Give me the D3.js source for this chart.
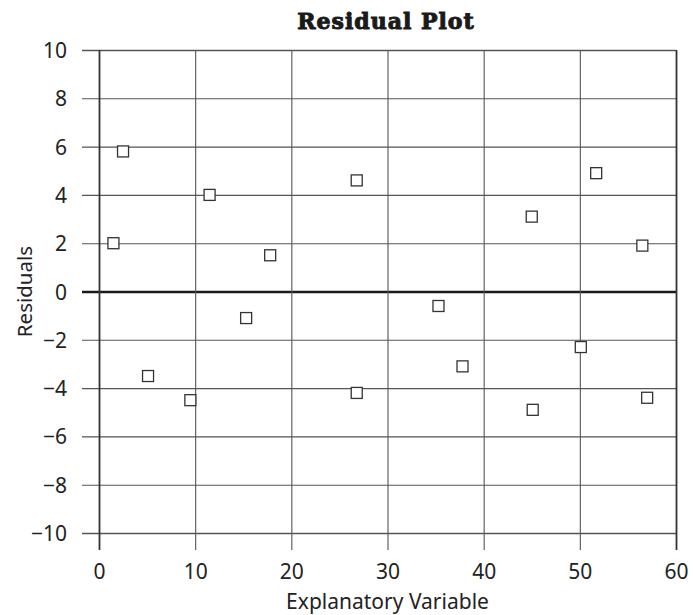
<!DOCTYPE html>
<html>
<head>
<meta charset="utf-8">
<script src="https://cdn.jsdelivr.net/npm/d3@7"></script>
<style>
  html, body { margin: 0; padding: 0; background: #fff; }
  svg { display: block; }
</style>
</head>
<body>
<svg id="chart" width="693" height="615"></svg>
<script>
// ---- data ----
const explanatory = [1.5, 2.5, 5.1, 9.5, 11.5, 15.3, 17.8, 26.8, 26.8, 35.3, 37.8, 45.0, 45.1, 50.1, 51.7, 56.5, 57.0];
const residuals   = [2.0, 5.8, -3.5, -4.5, 4.0, -1.1, 1.5, 4.6, -4.2, -0.6, -3.1, 3.1, -4.9, -2.3, 4.9, 1.9, -4.4];
const xTicks = [0, 10, 20, 30, 40, 50, 60];
const yTicks = [-10, -8, -6, -4, -2, 0, 2, 4, 6, 8, 10];
const titleText = "Residual Plot";
const xLabel = "Explanatory Variable";
const yLabel = "Residuals";

// ---- layout ----
const svg = d3.select("#chart");
const pLeft = 99, pRight = 676, pTop = 50, pBottom = 533;
const tickLen = 17;
const x = d3.scaleLinear().domain([0, 60]).range([pLeft, pRight]);
const y = d3.scaleLinear().domain([-10, 10]).range([pBottom, pTop]);
const textColor = "#222";
const sansFont = "'Noto Sans', 'Open Sans', sans-serif";

// horizontal gridlines (extend left as ticks)
const yAxis = d3.axisLeft(y).tickValues(yTicks)
  .tickSize(0)
  .tickFormat(d => d < 0 ? "\u2212" + Math.abs(d) : d);
const gy = svg.append("g").attr("transform", `translate(${pLeft},0)`).call(yAxis);
gy.select(".domain").remove();
gy.selectAll(".tick line")
  .attr("x1", -tickLen).attr("x2", pRight - pLeft)
  .attr("stroke", d => d === 0 ? "#1a1a1a" : "#555")
  .attr("stroke-width", d => d === 0 ? 2.6 : (d === 10 || d === -10 ? 1.6 : 1.1));
gy.selectAll(".tick text")
  .attr("x", -32).attr("dy", "0.36em")
  .attr("fill", textColor)
  .style("font-family", sansFont).style("font-size", "21px");

// vertical gridlines (extend down as ticks)
const xAxis = d3.axisBottom(x).tickValues(xTicks).tickSize(0);
const gx = svg.append("g").attr("transform", `translate(0,${pBottom})`).call(xAxis);
gx.select(".domain").remove();
gx.selectAll(".tick line")
  .attr("y1", -(pBottom - pTop)).attr("y2", tickLen)
  .attr("stroke", d => (d === 0 || d === 60) ? "#333" : "#555")
  .attr("stroke-width", d => (d === 0 || d === 60) ? 1.8 : 1.1);
gx.selectAll(".tick text")
  .attr("y", 46).attr("dy", 0)
  .attr("fill", textColor)
  .style("font-family", sansFont).style("font-size", "21px");

// points
svg.append("g").selectAll("rect")
  .data(explanatory.map((v, i) => ({ xv: v, yv: residuals[i] })))
  .join("rect")
  .attr("x", d => x(d.xv) - 5.5)
  .attr("y", d => y(d.yv) - 5.5)
  .attr("width", 11).attr("height", 11)
  .attr("fill", "#fff")
  .attr("stroke", "#333")
  .attr("stroke-width", 1.3);

// title
svg.append("text")
  .attr("x", 386).attr("y", 29)
  .attr("text-anchor", "middle")
  .attr("fill", "#1a1a1a")
  .attr("stroke", "#1a1a1a").attr("stroke-width", 1)
  .style("font-family", "'DejaVu Serif', serif")
  .style("font-weight", "bold")
  .style("font-size", "22px")
  .style("letter-spacing", "1px")
  .text(titleText);

// x label
svg.append("text")
  .attr("x", (pLeft + pRight) / 2).attr("y", 609)
  .attr("text-anchor", "middle")
  .attr("fill", textColor)
  .style("font-family", sansFont).style("font-size", "21px")
  .text(xLabel);

// y label
svg.append("text")
  .attr("transform", `translate(32,${(pTop + pBottom) / 2}) rotate(-90)`)
  .attr("text-anchor", "middle")
  .attr("fill", textColor)
  .style("font-family", sansFont).style("font-size", "20.5px")
  .text(yLabel);
</script>
</body>
</html>
